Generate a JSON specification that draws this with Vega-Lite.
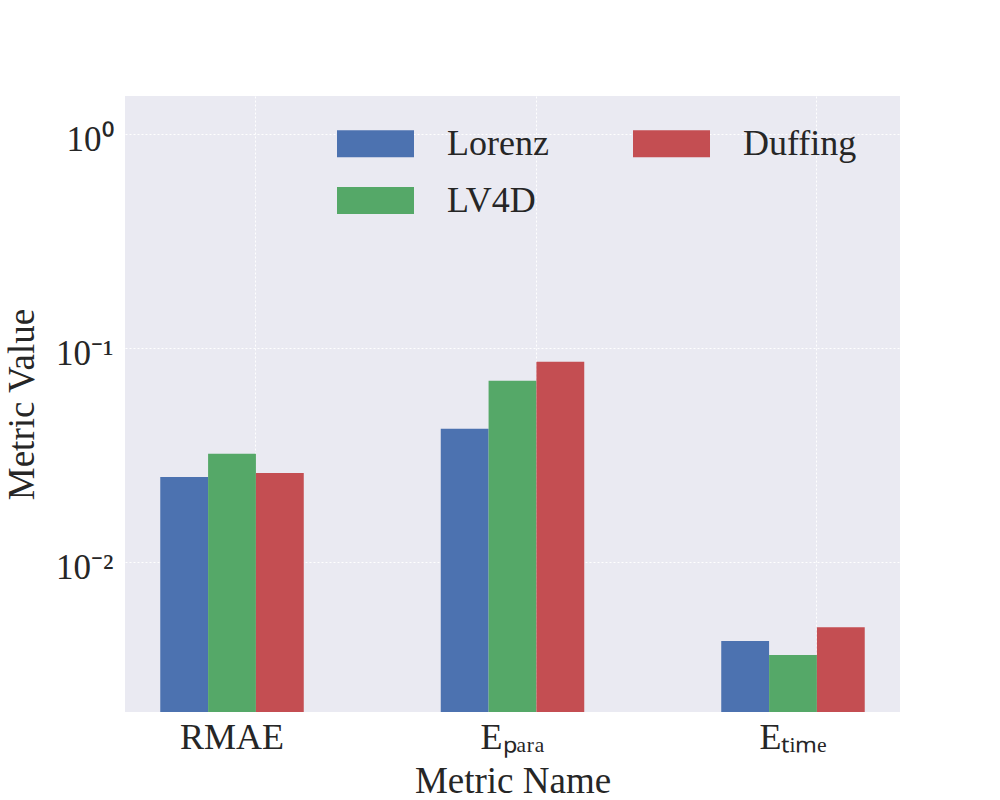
{
  "$schema": "https://vega.github.io/schema/vega-lite/v6.json",
  "width": 775,
  "height": 616,
  "autosize": {"type": "none"},
  "padding": {"left": 125, "top": 96, "right": 100, "bottom": 88},
  "background": "white",
  "config": {
    "view": {"fill": "#EAEAF2", "stroke": null},
    "font": "Liberation Serif",
    "axis": {
      "domain": false,
      "ticks": false,
      "grid": true,
      "gridColor": "white",
      "gridDash": [2, 2],
      "gridWidth": 1,
      "labelColor": "#262626",
      "titleColor": "#262626",
      "labelFont": "Liberation Serif",
      "titleFont": "Liberation Serif",
      "titleFontWeight": "normal"
    }
  },
  "data": {
    "values": [
      {"metric": "RMAE", "system": "Lorenz", "value": 0.0250},
      {"metric": "RMAE", "system": "LV4D", "value": 0.0321},
      {"metric": "RMAE", "system": "Duffing", "value": 0.0261},
      {"metric": "Eₚₐᵣₐ", "system": "Lorenz", "value": 0.0420},
      {"metric": "Eₚₐᵣₐ", "system": "LV4D", "value": 0.0704},
      {"metric": "Eₚₐᵣₐ", "system": "Duffing", "value": 0.0863},
      {"metric": "Eₜᵢₘₑ", "system": "Lorenz", "value": 0.00429},
      {"metric": "Eₜᵢₘₑ", "system": "LV4D", "value": 0.00369},
      {"metric": "Eₜᵢₘₑ", "system": "Duffing", "value": 0.00498}
    ]
  },
  "mark": {"type": "bar", "clip": true},
  "encoding": {
    "x": {
      "field": "metric",
      "type": "nominal",
      "sort": ["RMAE", "Eₚₐᵣₐ", "Eₜᵢₘₑ"],
      "scale": {"paddingInner": 0.4884, "paddingOuter": 0.1257},
      "axis": {
        "labelAngle": 0,
        "labelFontSize": 36,
        "labelPadding": 8,
        "bandPosition": 0.667,
        "titleFontSize": 37,
        "titleX": 387.5,
        "titleY": 80,
        "titleBaseline": "alphabetic"
      },
      "title": "Metric Name"
    },
    "xOffset": {
      "field": "system",
      "type": "nominal",
      "sort": ["Lorenz", "LV4D", "Duffing"],
      "scale": {"paddingInner": 0, "paddingOuter": 0}
    },
    "y": {
      "field": "value",
      "type": "quantitative",
      "scale": {"type": "log", "domain": [0.002, 1.505], "nice": false},
      "axis": {
        "values": [0.01, 0.1, 1],
        "labelExpr": "datum.value >= 0.5 ? '10⁰' : datum.value >= 0.05 ? '10⁻¹' : '10⁻²'",
        "labelFontSize": 35,
        "labelPadding": 12,
        "labelOffset": 5,
        "titleFontSize": 37,
        "titleX": -92,
        "titleY": 308,
        "titleAngle": -90,
        "titleAlign": "center",
        "titleBaseline": "alphabetic"
      },
      "title": "Metric Value"
    },
    "y2": {"datum": 0.002},
    "color": {
      "field": "system",
      "type": "nominal",
      "scale": {
        "domain": ["Lorenz", "LV4D", "Duffing"],
        "range": ["#4C72B0", "#55A868", "#C44E52"]
      },
      "legend": {
        "title": null,
        "orient": "none",
        "legendX": 212,
        "legendY": 9,
        "columns": 2,
        "padding": 0,
        "symbolType": "M-1,-0.35H1V0.35H-1Z",
        "symbolSize": 5929,
        "symbolStrokeWidth": 0,
        "symbolOpacity": 1,
        "labelFont": "Liberation Serif",
        "labelFontSize": 36,
        "labelColor": "#262626",
        "labelOffset": 33,
        "labelLimit": 300,
        "columnPadding": 84,
        "rowPadding": -2
      }
    }
  }
}
